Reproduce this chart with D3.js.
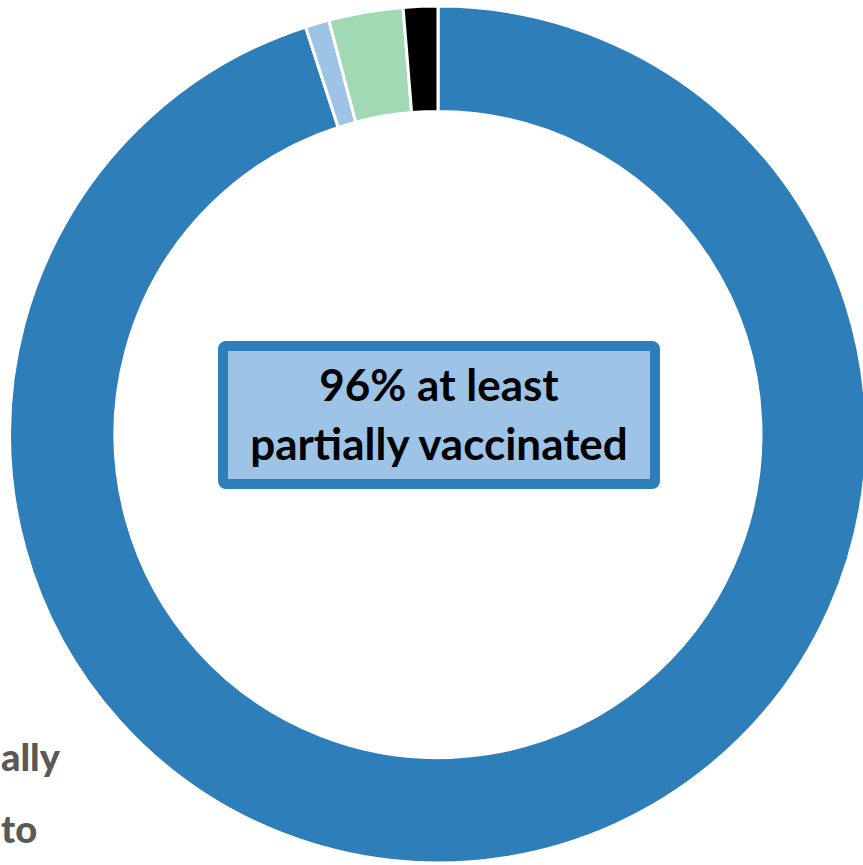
<!DOCTYPE html>
<meta charset="utf-8">
<head>
  <style>
    html, body { margin: 0; padding: 0; background: #fff; }
    svg { display: block; }
  </style>
</head>
<script src="https://cdn.jsdelivr.net/npm/d3@7"></script>
<body>
<script>
  // slices, clockwise from 12 o'clock
  var categories = ["Fully vaccinated", "Partially vaccinated", "Eligible, not vaccinated", "Not eligible"];
  var values = [95.0, 0.9, 2.8, 1.3];
  var colors = ["#2E7EB9", "#9DC3E6", "#A2D9B5", "#000000"];
  var centerLines = ["96% at least", "partially vaccinated"];
  // legend text, only its right-hand ends are inside the picture
  var legendLines = ["ally", "to"];

  var width = 863, height = 865;
  var cx = 438, cy = 434.5;
  var outerR = 428.5, innerR = 323;

  var svg = d3.select("body").append("svg")
    .attr("width", width)
    .attr("height", height);

  var pie = d3.pie().sort(null).value(function(d) { return d; });
  var arc = d3.arc().innerRadius(innerR).outerRadius(outerR);

  var g = svg.append("g").attr("transform", "translate(" + cx + "," + cy + ")");

  g.selectAll("path")
    .data(pie(values))
    .enter().append("path")
    .attr("d", arc)
    .attr("fill", function(d, i) { return colors[i]; })
    .attr("stroke", "#fff")
    .attr("stroke-width", 3);

  // centre label box
  var box = svg.append("g");
  box.append("rect")
    .attr("x", 223).attr("y", 346)
    .attr("width", 432).attr("height", 138)
    .attr("rx", 3)
    .attr("fill", "#9DC3E6")
    .attr("stroke", "#2E7EB9")
    .attr("stroke-width", 10);

  box.selectAll("text")
    .data(centerLines)
    .enter().append("text")
    .attr("x", 439)
    .attr("y", function(d, i) { return 401 + i * 59; })
    .attr("text-anchor", "middle")
    .attr("font-family", "Lato, 'Open Sans', sans-serif")
    .attr("font-weight", "bold")
    .attr("font-size", 44)
    .attr("fill", "#000")
    .text(function(d) { return d; });

  svg.selectAll(".legend")
    .data(legendLines)
    .enter().append("text")
    .attr("class", "legend")
    .attr("x", 1)
    .attr("y", function(d, i) { return 771 + i * 72; })
    .attr("font-family", "Lato, 'Open Sans', sans-serif")
    .attr("font-weight", "900")
    .attr("font-size", 38)
    .attr("fill", "#595959")
    .text(function(d) { return d; });
</script>
</body>
